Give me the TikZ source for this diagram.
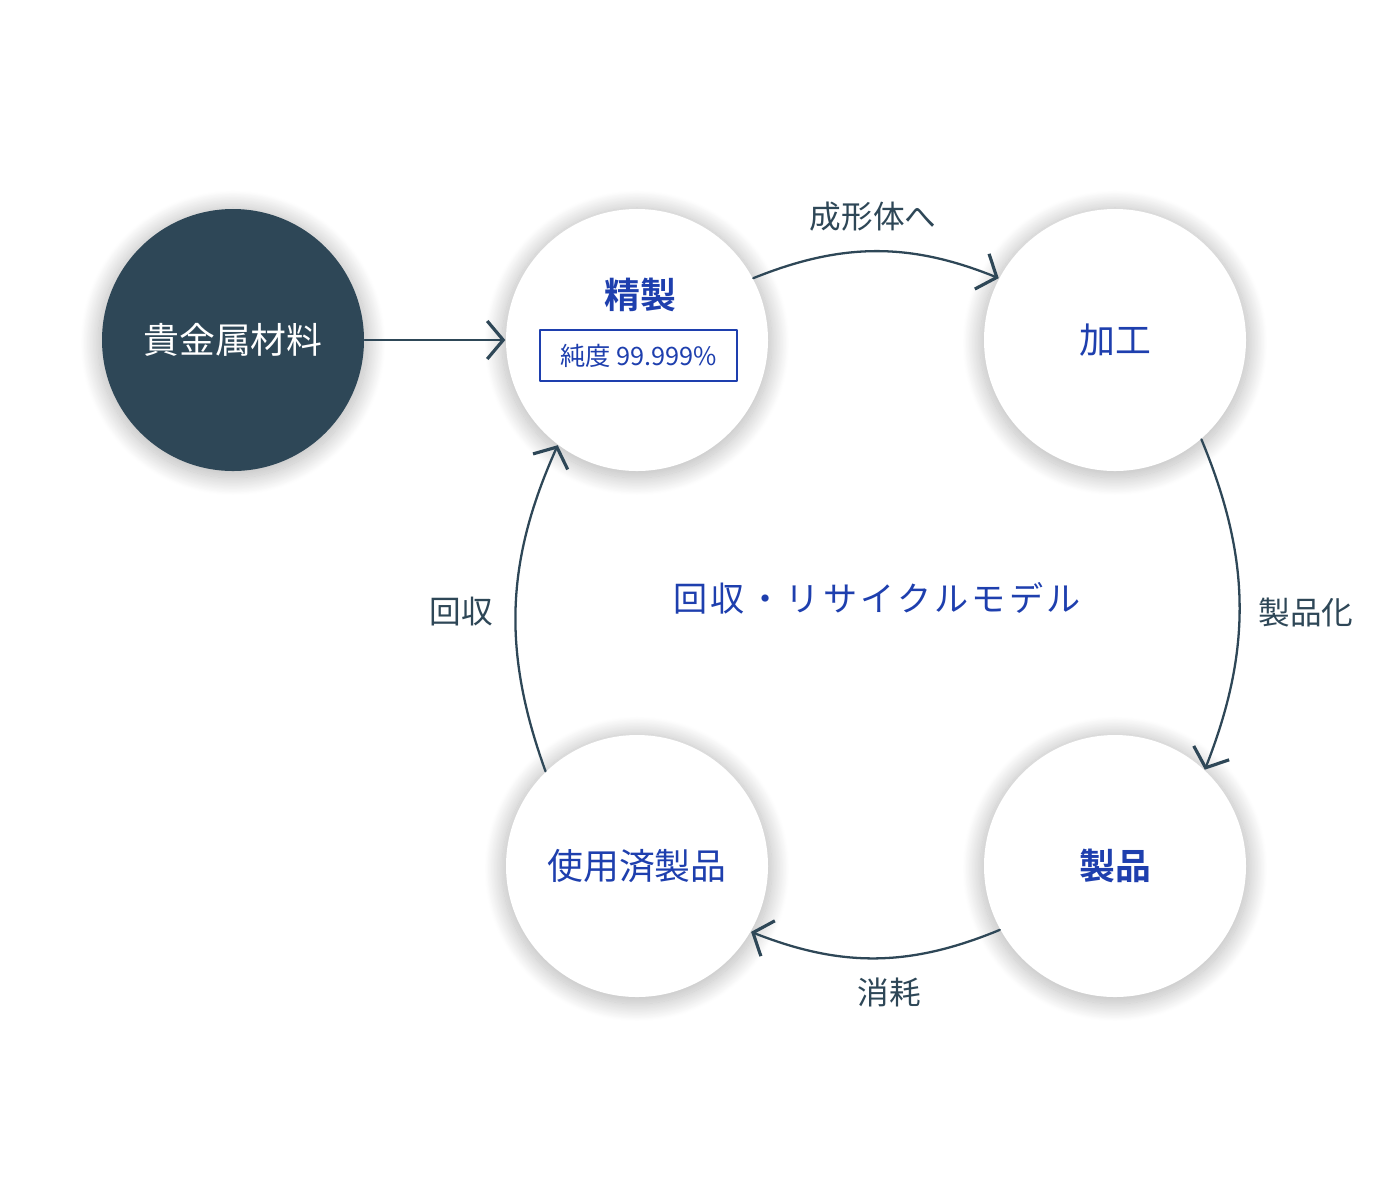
\documentclass[tikz,border=0pt]{standalone}
\usepackage{fontspec}
\setmainfont{Noto Sans CJK JP}[BoldFont={Noto Sans CJK JP Bold}]
\newfontfamily\titlefont{Noto Sans CJK JP}[LetterSpace=10]
\usepackage{tikz}
\usetikzlibrary{arrows.meta}
\usetikzlibrary{positioning}
\usetikzlibrary{shadows.blur}
\definecolor{slate}{HTML}{2E4757}
\definecolor{inkblue}{HTML}{1E3FAE}

\begin{document}
\begin{tikzpicture}[line cap=round,line join=round,>={Straight Barb[length=1.6mm,width=3.8mm,line width=0.9pt]},x=1cm,y=1cm,
stage/.style={circle,minimum size=2.62cm,inner sep=0pt,fill=white,text=inkblue,font=\fontsize{10.2pt}{12pt}\selectfont,
  blur shadow={shadow xshift=0pt,shadow yshift=-0.8pt,shadow scale=1.03,shadow blur radius=0.17cm,shadow blur steps=30,shadow opacity=28}},
flow/.style={->,color=slate,line width=0.65pt},
flowlabel/.style={text=slate,font=\fontsize{9pt}{11pt}\selectfont}]
\useasboundingbox (0,0) rectangle (14,-12);
\node[stage,fill=slate,text=white] (material) at (2.33,-3.40) {貴金属材料};
\node[stage] (refining) at (6.37,-3.40) {};
\node[text=inkblue,font=\fontsize{10.2pt}{12pt}\bfseries\selectfont] (refiningLabel) at (6.40,-2.95) {精製};
\node[draw=inkblue,line width=0.6pt,text=inkblue,minimum width=1.97cm,minimum height=0.51cm,inner sep=0pt,font=\fontsize{7.2pt}{9pt}\selectfont] (purity) at (6.385,-3.555) {純度 99.999\%};
\node[stage] (processing) at (11.15,-3.40) {加工};
\node[stage,font=\fontsize{10.2pt}{12pt}\bfseries\selectfont] (product) at (11.15,-8.66) {製品};
\node[stage] (used) at (6.37,-8.66) {使用済製品};
\draw[flow] (material.east) -- (refining.west);
\draw[flow] (refining.28) to[bend left=22] (processing.152);
\draw[flow] (processing.-49) to[bend left=22] (product.47);
\draw[flow] (product.209) to[bend left=22] (used.-30);
\draw[flow] (used.134) to[bend left=22] (refining.233);
\node[flowlabel] (toForm) at (8.73,-2.17) {成形体へ};
\node[flowlabel] (toProduct) at (13.06,-6.12) {製品化};
\node[flowlabel] (toUse) at (8.89,-9.92) {消耗};
\node[flowlabel] (toRecover) at (4.61,-6.12) {回収};
\node[text=inkblue,font=\fontsize{9.7pt}{12pt}\titlefont] (modelTitle) at (8.77,-5.98) {回収・リサイクルモデル};
\end{tikzpicture}
\end{document}
